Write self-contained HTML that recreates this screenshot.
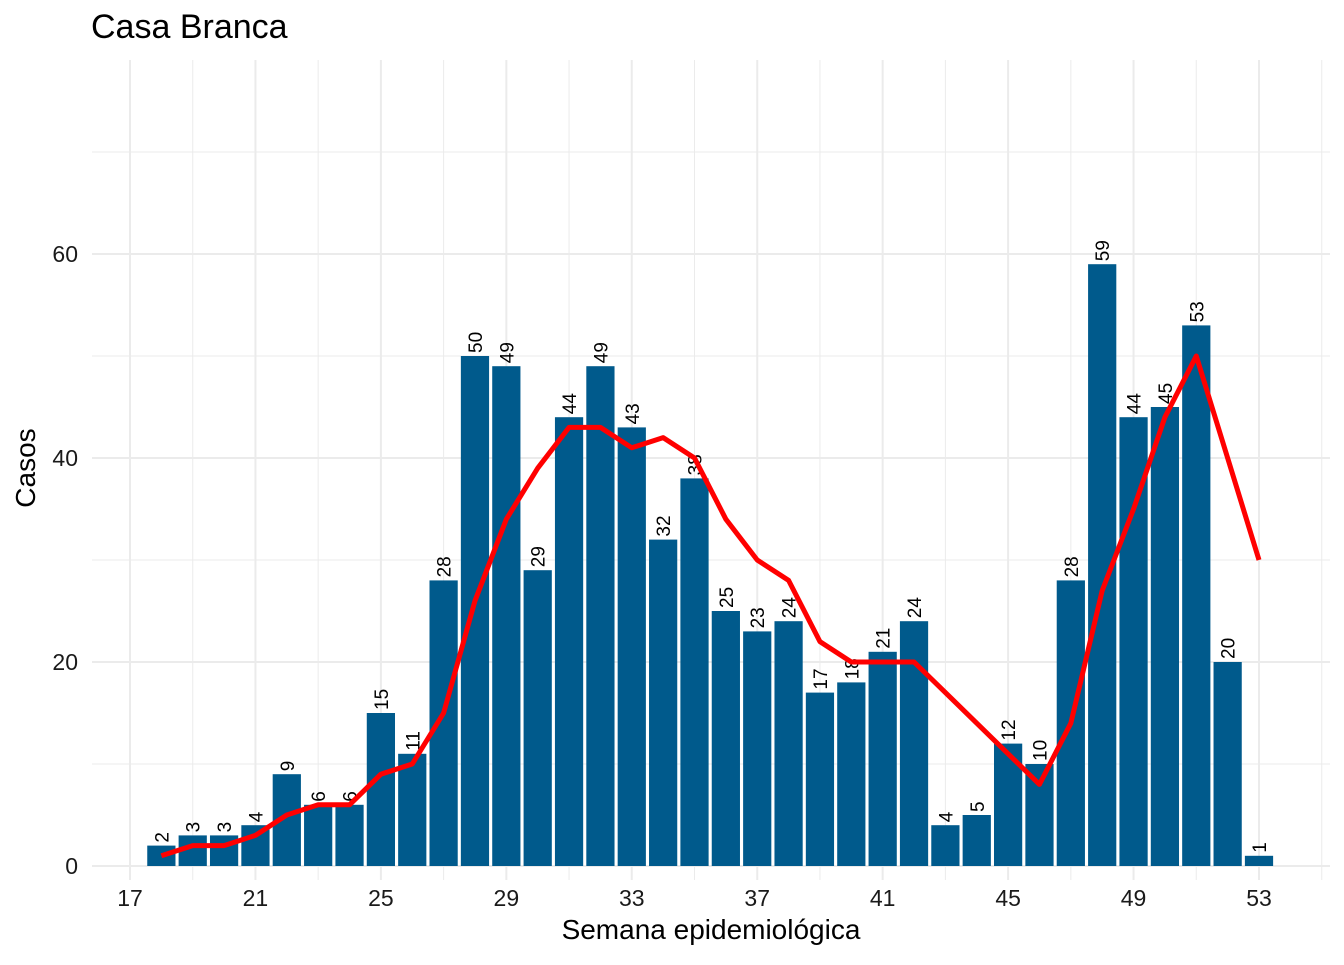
<!DOCTYPE html>
<html><head><meta charset="utf-8">
<style>
body{margin:0;background:#fff;font-family:"Liberation Sans",sans-serif;}
svg text{font-family:"Liberation Sans",sans-serif;}
</style></head>
<body>
<svg id="chart" width="1344" height="960" xmlns="http://www.w3.org/2000/svg">
<text x="91" y="38" font-size="34" fill="#000">Casa Branca</text>
<g id="grid"></g>
<g id="bars"></g>
<g id="labels"></g>
<g id="line"></g>
<g id="axes"></g>
<text x="711" y="939" font-size="28" text-anchor="middle">Semana epidemiológica</text>
<text transform="translate(35,468) rotate(-90)" font-size="28" text-anchor="middle">Casos</text>
</svg>
<script>
const weeks=[18,19,20,21,22,23,24,25,26,27,28,29,30,31,32,33,34,35,36,37,38,39,40,41,42,43,44,45,46,47,48,49,50,51,52,53];
const cases=[2,3,3,4,9,6,6,15,11,28,50,49,29,44,49,43,32,38,25,23,24,17,18,21,24,4,5,12,10,28,59,44,45,53,20,1];
const trend=[1,2,2,3,5,6,6,9,10,15,26,34,39,43,43,41,42,40,34,30,28,22,20,20,20,17,14,11,8,14,27,35,44,50,40,30];
const xTicks=[17,21,25,29,33,37,41,45,49,53];
const yTicks=[0,20,40,60];
const NS="http://www.w3.org/2000/svg";
const xs=w=>130+(w-17)*(1259-130)/36;
const ys=v=>866-v*10.2;
function mk(tag,attrs,parent){const e=document.createElementNS(NS,tag);for(const k in attrs)e.setAttribute(k,attrs[k]);parent.appendChild(e);return e;}
const grid=document.getElementById('grid');
for(let w=17;w<=55;w+=2){
  const l=mk('line',{x1:xs(w),x2:xs(w),y1:60,y2:880,stroke:'#ebebeb','stroke-width':(w-17)%4===0?2:1},grid);
  
  
}
for(let v=0;v<=70;v+=10){
  const l=mk('line',{x1:92,x2:1330,y1:ys(v),y2:ys(v),stroke:'#ebebeb','stroke-width':v%20===0?2:1},grid);
  
  
}
const bars=document.getElementById('bars'),labels=document.getElementById('labels');
const bw=0.9*(1259-130)/36;
weeks.forEach((w,i)=>{
  const r=mk('rect',{x:xs(w)-bw/2,y:ys(cases[i]),width:bw,height:ys(0)-ys(cases[i]),fill:'#005a8c'},bars);
  
  
  const t=mk('text',{transform:`translate(${xs(w)+7},${ys(cases[i])-3}) rotate(-90)`,'font-size':'19',fill:'#000'},labels);
  t.textContent=cases[i];
  
  
});
const p=mk('polyline',{points:weeks.map((w,i)=>xs(w)+','+ys(trend[i])).join(' '),fill:'none',stroke:'#ff0000','stroke-width':5,'stroke-linejoin':'round'},document.getElementById('line'));


const axes=document.getElementById('axes');
xTicks.forEach(w=>{
  const t=mk('text',{x:xs(w),y:906,'font-size':'23','text-anchor':'middle',fill:'#1a1a1a'},axes);
  t.textContent=w;
  
  
});
yTicks.forEach(v=>{
  const t=mk('text',{x:78,y:ys(v)+8,'font-size':'23','text-anchor':'end',fill:'#1a1a1a'},axes);
  t.textContent=v;
  
  
});
</script>
</body></html>
